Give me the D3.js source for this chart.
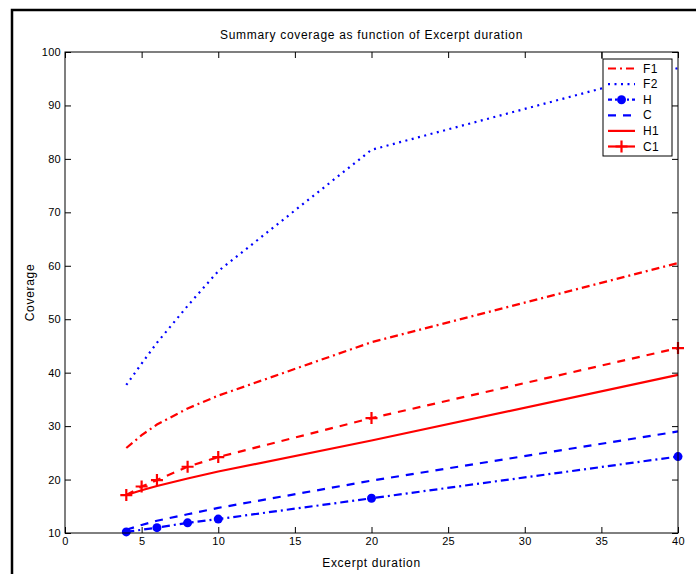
<!DOCTYPE html>
<html>
<head>
<meta charset="utf-8">
<script src="https://cdn.jsdelivr.net/npm/d3@7"></script>
<style>
  body { margin: 0; background: #fff; }
  text { font-family: "Liberation Sans", Arial, Helvetica, sans-serif; }
</style>
</head>
<body>
<div id="vi1"></div>
<script>
const W = 696, H = 574;
const margin = { top: 52, right: 18, bottom: 41, left: 65 };
const width = W - margin.left - margin.right;
const height = H - margin.top - margin.bottom;

// data
const xTicks = [0, 5, 10, 15, 20, 25, 30, 35, 40];
const yTicks = [10, 20, 30, 40, 50, 60, 70, 80, 90, 100];
const durations = [4, 5, 6, 8, 10, 20, 40];
const durationsH = [4, 6, 8, 10, 20, 40];
const f1 = [25.9, 28.3, 30.3, 33.3, 35.7, 45.7, 60.5];
const f2 = [37.7, 41.7, 45.6, 52.5, 59.0, 81.7, 97.0];
const hVals = [10.2, 11.0, 11.9, 12.6, 16.5, 24.3];
const cVals = [10.6, 11.5, 12.3, 13.5, 14.7, 19.8, 29.0];
const h1 = [17.1, 18.0, 18.8, 20.2, 21.5, 27.3, 39.6];
const c1 = [17.1, 18.7, 19.9, 22.4, 24.2, 31.5, 44.6];
const seriesNames = ["F1", "F2", "H", "C", "H1", "C1"];

const red = "#ff0000", blue = "#0000ff";
const series = [
  { name: "F1", xs: durations, ys: f1, color: red, dash: "8,4,2,4", legendDash: "8,4,2,4", marker: null },
  { name: "F2", xs: durations, ys: f2, color: blue, dash: "2,4.5", legendDash: "2,4.5", marker: null },
  { name: "H", xs: durationsH, ys: hVals, color: blue, dash: "8,4,2,4", legendDash: "4,3,2,3", marker: "dot" },
  { name: "C", xs: durations, ys: cVals, color: blue, dash: "8,7", legendDash: "8,7", marker: null },
  { name: "H1", xs: durations, ys: h1, color: red, dash: null, legendDash: null, marker: null },
  { name: "C1", xs: durations, ys: c1, color: red, dash: "8,7", legendDash: null, marker: "plus" }
];

const svg = d3.select("#vi1").append("svg")
  .attr("width", W)
  .attr("height", H);

// outer frame
svg.append("rect")
  .attr("x", 12).attr("y", 10)
  .attr("width", 720).attr("height", 620)
  .attr("fill", "none")
  .attr("stroke", "#000")
  .attr("stroke-width", 2.5);

const g = svg.append("g")
  .attr("transform", `translate(${margin.left}, ${margin.top})`);

const x = d3.scaleLinear().domain([0, 40]).range([0, width]);
const y = d3.scaleLinear().domain([10, 100]).range([height, 0]);

// axes, ticks pointing inward on all four sides
function styleAxis(sel) {
  sel.select(".domain").remove();
  sel.selectAll(".tick line").attr("stroke", "#000");
  sel.selectAll("text").attr("font-size", "11px").attr("letter-spacing", "0.3px").attr("fill", "#000");
}
g.append("g")
  .attr("transform", `translate(0, ${height})`)
  .call(d3.axisBottom(x).tickValues(xTicks).tickSize(-6).tickPadding(4))
  .call(styleAxis);
g.append("g")
  .call(d3.axisTop(x).tickValues(xTicks).tickSize(-6).tickFormat(""))
  .call(styleAxis);
g.append("g")
  .call(d3.axisLeft(y).tickValues(yTicks).tickSize(-6).tickPadding(4))
  .call(styleAxis);
g.append("g")
  .attr("transform", `translate(${width}, 0)`)
  .call(d3.axisRight(y).tickValues(yTicks).tickSize(-6).tickFormat(""))
  .call(styleAxis);

// lines
const line = d3.line().x(d => x(d[0])).y(d => y(d[1]));
series.forEach(s => {
  const pts = s.xs.map((v, i) => [v, s.ys[i]]);
  g.append("path")
    .datum(pts)
    .attr("fill", "none")
    .attr("stroke", s.color)
    .attr("stroke-width", 2.2)
    .attr("stroke-dasharray", s.dash)
    .attr("d", line);
  if (s.marker === "dot") {
    g.selectAll(null).data(pts).join("circle")
      .attr("cx", d => x(d[0])).attr("cy", d => y(d[1]))
      .attr("r", 4.5).attr("fill", s.color);
  } else if (s.marker === "plus") {
    g.selectAll(null).data(pts).join("path")
      .attr("d", d => `M${x(d[0]) - 6},${y(d[1])}h12M${x(d[0])},${y(d[1]) - 6}v12`)
      .attr("stroke", s.color).attr("stroke-width", 2.2);
  }
});

// plot box
g.append("rect")
  .attr("width", width).attr("height", height)
  .attr("fill", "none").attr("stroke", "#000").attr("stroke-width", 1);

// title and axis labels
svg.append("text")
  .attr("x", margin.left + width / 2).attr("y", 39)
  .attr("text-anchor", "middle").attr("font-size", "12px").attr("letter-spacing", "0.7px")
  .text("Summary coverage as function of Excerpt duration");
svg.append("text")
  .attr("x", margin.left + width / 2).attr("y", 567)
  .attr("text-anchor", "middle").attr("font-size", "12px").attr("letter-spacing", "0.7px")
  .text("Excerpt duration");
svg.append("text")
  .attr("transform", `translate(34, ${margin.top + height / 2}) rotate(-90)`)
  .attr("text-anchor", "middle").attr("font-size", "12px").attr("letter-spacing", "0.7px")
  .text("Coverage");

// legend
const lx = 603, ly = 59, lw = 69, lh = 97;
svg.append("line")
  .attr("x1", lx - 1).attr("x2", lx - 1).attr("y1", margin.top).attr("y2", ly)
  .attr("stroke", "#000");
svg.append("rect")
  .attr("x", lx).attr("y", ly).attr("width", lw).attr("height", lh)
  .attr("fill", "#fff").attr("stroke", "#000").attr("stroke-width", 1);

const legend = svg.append("g").attr("transform", `translate(${lx}, ${ly})`);
const rowY = i => 9.5 + i * 15.6;
seriesNames.forEach((name, i) => {
  const s = series.find(d => d.name === name);
  legend.append("line")
    .attr("x1", 5).attr("x2", 32)
    .attr("y1", rowY(i)).attr("y2", rowY(i))
    .attr("stroke", s.color).attr("stroke-width", 2.2)
    .attr("stroke-dasharray", s.legendDash);
  if (s.marker === "dot") {
    legend.append("circle").attr("cx", 18.5).attr("cy", rowY(i)).attr("r", 4.5).attr("fill", s.color);
  } else if (s.marker === "plus") {
    legend.append("path")
      .attr("d", `M12.5,${rowY(i)}h12M18.5,${rowY(i) - 6}v12`)
      .attr("stroke", s.color).attr("stroke-width", 2.2);
  }
  legend.append("text")
    .attr("x", 40).attr("y", rowY(i) + 4)
    .attr("font-size", "12px").attr("letter-spacing", "0.4px")
    .text(name);
});
</script>
</body>
</html>
